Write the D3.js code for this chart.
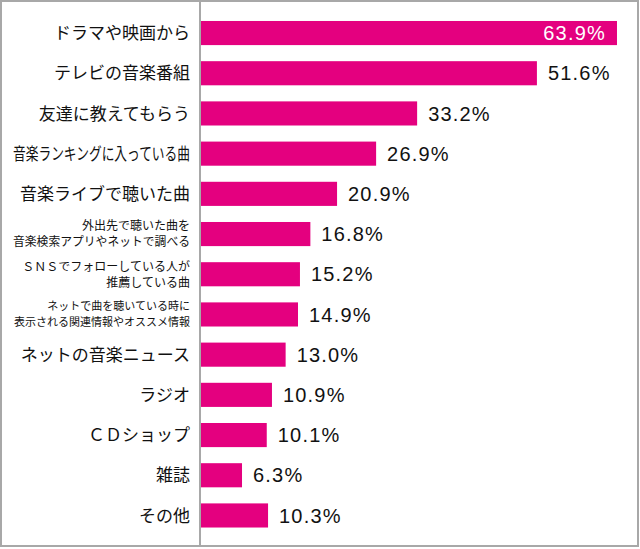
<!DOCTYPE html>
<html><head><meta charset="utf-8">
<script src="https://cdn.jsdelivr.net/npm/d3@7"></script>
<style>
html,body{margin:0;padding:0;background:#fff;}
svg{display:block;}
</style></head>
<body>
<svg id="chart" width="640" height="549"></svg>
<script>
const categories = [
  ["ドラマや映画から"],
  ["テレビの音楽番組"],
  ["友達に教えてもらう"],
  ["音楽ランキングに入っている曲"],
  ["音楽ライブで聴いた曲"],
  ["外出先で聴いた曲を", "音楽検索アプリやネットで調べる"],
  ["ＳＮＳでフォローしている人が", "推薦している曲"],
  ["ネットで曲を聴いている時に", "表示される関連情報やオススメ情報"],
  ["ネットの音楽ニュース"],
  ["ラジオ"],
  ["ＣＤショップ"],
  ["雑誌"],
  ["その他"]
];
const values = [63.9, 51.6, 33.2, 26.9, 20.9, 16.8, 15.2, 14.9, 13.0, 10.9, 10.1, 6.3, 10.3];
const valueLabels = ["63.9%", "51.6%", "33.2%", "26.9%", "20.9%", "16.8%", "15.2%", "14.9%", "13.0%", "10.9%", "10.1%", "6.3%", "10.3%"];

const svg = d3.select("#chart");
const W = 640, H = 549;
const idx = d3.range(values.length);

const y = d3.scaleBand().domain(idx).range([4.9, 543.6]).padding(0.4);
const x = d3.scaleLinear().domain([0, 100]).range([201, 852]);

// frame
svg.append("rect").attr("x", 1).attr("y", 1).attr("width", 637).attr("height", 545)
  .attr("fill", "#fff").attr("stroke", "#a8a8a8").attr("stroke-width", 2);

// bars
svg.append("g").selectAll("rect").data(idx).join("rect")
  .attr("x", x(0))
  .attr("y", i => y(i))
  .attr("width", i => x(values[i]) - x(0))
  .attr("height", y.bandwidth())
  .attr("fill", "#e4007f");

// axis line
svg.append("line").attr("x1", 200).attr("x2", 200).attr("y1", 0).attr("y2", 547)
  .attr("stroke", "#a8a8a8").attr("stroke-width", 2);

// value labels
const maxVal = d3.max(values);
svg.append("g").selectAll("text").data(idx).join("text")
  .attr("x", i => values[i] === maxVal ? x(values[i]) - 11 : x(values[i]) + 11)
  .attr("y", i => y(i) + y.bandwidth() / 2)
  .attr("dy", "0.36em")
  .attr("text-anchor", i => values[i] === maxVal ? "end" : "start")
  .attr("fill", i => values[i] === maxVal ? "#fff" : "#111")
  .style("font-family", "'Liberation Sans', Arial, sans-serif")
  .style("font-size", "20px")
  .style("letter-spacing", "1.2px")
  .text(i => valueLabels[i]);

// category labels
const labelX = 190;
const maxW = 177;
const lg = svg.append("g")
  .style("font-family", "'Noto Sans CJK JP', sans-serif")
  .attr("fill", "#111");
idx.forEach(i => {
  const lines = categories[i];
  const cy = y(i) + y.bandwidth() / 2;
  const multi = lines.length > 1;
  const fs = multi ? (i === 7 ? 11 : 12) : 17;
  const lh = 16;
  lines.forEach((ln, k) => {
    const t = lg.append("text")
      .attr("x", labelX)
      .attr("y", cy + (k - (lines.length - 1) / 2) * lh)
      .attr("dy", "0.36em")
      .attr("text-anchor", "end")
      .style("font-size", fs + "px")
      .text(ln);
    const len = t.node().getComputedTextLength();
    if (len > maxW) {
      t.attr("textLength", maxW).attr("lengthAdjust", "spacingAndGlyphs");
    }
  });
});
</script>
</body></html>
